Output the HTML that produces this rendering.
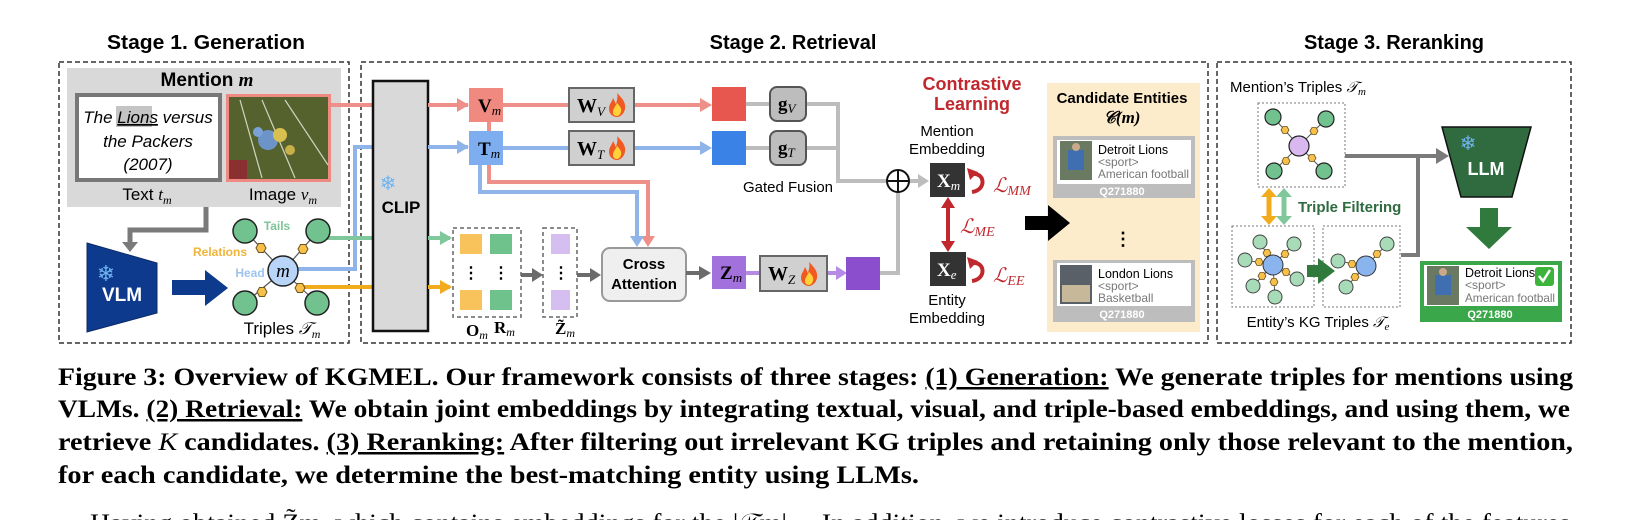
<!DOCTYPE html>
<html><head><meta charset="utf-8"><style>
html,body{margin:0;padding:0;background:#fff;}
svg{display:block;}
.s{font-family:"Liberation Sans",sans-serif;}
.m{font-family:"Liberation Serif",serif;font-style:italic;}
.b{font-family:"Liberation Serif",serif;font-weight:bold;}
</style></head><body>
<svg width="1632" height="520" viewBox="0 0 1632 520" xmlns="http://www.w3.org/2000/svg">
<defs>
<polygon id="hex" points="-5,0 -2.5,-4.5 2.5,-4.5 5,0 2.5,4.5 -2.5,4.5" fill="#f7c04a" stroke="#6b5520" stroke-width="1"/>
<polygon id="hexs" points="-4,0 -2,-3.5 2,-3.5 4,0 2,3.5 -2,3.5" fill="#f7c04a" stroke="#6b5520" stroke-width="0.8"/>
<g id="flame"><path d="M0,-12 C6,-6 9,-2 8,4 C7,9 3,12 0,12 C-4,12 -8,9 -8,4 C-8,-1 -5,-3 -4,-7 C-2,-4 -2,-2 -1,-1 C0,-5 1,-8 0,-12Z" fill="#f05a22"/><path d="M0,-2 C3,1 5,4 4,7 C3,10 1,11 0,11 C-3,11 -4,9 -4,7 C-4,4 -2,2 0,-2Z" fill="#ffd23a"/></g>
</defs>

<!-- Stage titles -->
<text x="206" y="49" class="s" font-size="20" font-weight="bold" text-anchor="middle" textLength="198" lengthAdjust="spacingAndGlyphs">Stage 1. Generation</text>
<text x="793" y="49" class="s" font-size="20" font-weight="bold" text-anchor="middle">Stage 2. Retrieval</text>
<text x="1394" y="49" class="s" font-size="20" font-weight="bold" text-anchor="middle">Stage 3. Reranking</text>

<!-- Stage boxes -->
<rect x="59" y="62" width="290" height="281" fill="none" stroke="#333" stroke-width="1.5" stroke-dasharray="5,3"/>
<rect x="361" y="62" width="847" height="281" fill="none" stroke="#333" stroke-width="1.5" stroke-dasharray="5,3"/>
<rect x="1217" y="62" width="354" height="281" fill="none" stroke="#333" stroke-width="1.5" stroke-dasharray="5,3"/>

<!-- ===== Stage 1 ===== -->
<rect x="67" y="68" width="274" height="139" fill="#d9d9d9"/>
<text x="207" y="86" class="s" font-size="19" font-weight="bold" text-anchor="middle">Mention <tspan class="m" font-weight="bold">m</tspan></text>
<rect x="77" y="95" width="143" height="85" fill="#fff" stroke="#777" stroke-width="4"/>
<rect x="116" y="106" width="36" height="21" fill="#c4c4c4"/>
<text x="148" y="123" class="s" font-size="17" font-style="italic" text-anchor="middle">The <tspan text-decoration="underline">Lions</tspan> versus</text>
<text x="148" y="147" class="s" font-size="17" font-style="italic" text-anchor="middle">the Packers</text>
<text x="148" y="170" class="s" font-size="17" font-style="italic" text-anchor="middle">(2007)</text>
<rect x="227.5" y="95.5" width="102" height="85" fill="#4b5a2c" stroke="#ee8a82" stroke-width="3"/>
<rect x="229" y="97" width="99" height="82" fill="#56622e"/>
<path d="M240,100 L262,178 M262,100 L295,178 M285,100 L328,165" stroke="#cfd6c0" stroke-width="1.2" fill="none"/>
<circle cx="268" cy="140" r="10" fill="#6d94c8"/><circle cx="280" cy="135" r="7" fill="#d8c050"/><circle cx="258" cy="132" r="5" fill="#7aa2d8"/><circle cx="290" cy="150" r="5" fill="#c8b048"/>
<rect x="229" y="160" width="18" height="19" fill="#8a3030"/>
<text x="147" y="200" class="s" font-size="17" text-anchor="middle">Text <tspan class="m">t</tspan><tspan class="m" font-size="12" dy="4">m</tspan></text>
<text x="283" y="200" class="s" font-size="17" text-anchor="middle">Image <tspan class="m">v</tspan><tspan class="m" font-size="12" dy="4">m</tspan></text>

<path d="M206,207 V230 H130 V244" stroke="#7a7a7a" stroke-width="5" fill="none"/>
<polygon points="122,242 138,242 130,252" fill="#7a7a7a"/>

<polygon points="87,243 157,263 157,313 87,332" fill="#0d3a8c" stroke="#0a2a66" stroke-width="1"/>
<text x="106" y="281" font-size="22" fill="#6fb4f0" text-anchor="middle" font-family="DejaVu Sans">❄</text>
<text x="122" y="301" class="s" font-size="19" font-weight="bold" fill="#fff" text-anchor="middle">VLM</text>
<rect x="172" y="280" width="35" height="15" fill="#0d3a8c"/>
<polygon points="205,270 228,288 205,306" fill="#0d3a8c"/>

<!-- connectors from graph -->
<path d="M331,105 H468" stroke="#ee9089" stroke-width="4" fill="none"/>
<path d="M297,269 H355 V147 H468" stroke="#8fb4ea" stroke-width="4" fill="none"/>
<path d="M318,238 H450" stroke="#80c79c" stroke-width="4" fill="none"/>
<path d="M300,287 H450" stroke="#f2ab1c" stroke-width="4" fill="none"/>

<!-- graph -->
<g stroke="#555" stroke-width="1.2">
<line x1="283" y1="271" x2="245" y2="231"/><line x1="283" y1="271" x2="318" y2="231"/>
<line x1="283" y1="271" x2="245" y2="303"/><line x1="283" y1="271" x2="317" y2="303"/>
</g>
<g fill="#72c290" stroke="#222" stroke-width="1.5">
<circle cx="245" cy="231" r="12"/><circle cx="318" cy="231" r="12"/><circle cx="245" cy="303" r="12"/><circle cx="317" cy="303" r="12"/>
</g>
<use href="#hex" x="261" y="248"/><use href="#hex" x="303" y="249"/><use href="#hex" x="262" y="292"/><use href="#hex" x="300" y="288"/>
<circle cx="283" cy="271" r="15" fill="#b8d4f6" stroke="#222" stroke-width="1.5"/>
<text x="283" y="277" class="m" font-size="19" text-anchor="middle">m</text>
<text x="277" y="230" class="s" font-size="12" font-weight="bold" fill="#7cc596" text-anchor="middle">Tails</text>
<text x="220" y="256" class="s" font-size="12" font-weight="bold" fill="#f0b43a" text-anchor="middle">Relations</text>
<text x="250" y="277" class="s" font-size="12" font-weight="bold" fill="#9ec2ee" text-anchor="middle">Head</text>
<text x="282" y="334" class="s" font-size="17" text-anchor="middle">Triples <tspan class="m">𝒯</tspan><tspan class="m" font-size="12" dy="4">m</tspan></text>

<!-- ===== Stage 2 ===== -->
<rect x="373" y="81" width="55" height="250" fill="#d9d9d9" stroke="#111" stroke-width="2.5"/>
<text x="388" y="190" font-size="20" fill="#6fb4f0" text-anchor="middle" font-family="DejaVu Sans">❄</text>
<text x="401" y="213" class="s" font-size="17" font-weight="bold" text-anchor="middle">CLIP</text>

<path d="M428,105 H460" stroke="#ee9089" stroke-width="4"/>
<polygon points="457,98 469,105 457,112" fill="#ee9089"/>
<path d="M428,147 H460" stroke="#8fb4ea" stroke-width="4"/>
<polygon points="457,140 469,147 457,154" fill="#8fb4ea"/>
<path d="M428,238 H442" stroke="#80c79c" stroke-width="4"/>
<polygon points="440,231 452,238 440,245" fill="#80c79c"/>
<path d="M428,287 H442" stroke="#f2ab1c" stroke-width="4"/>
<polygon points="440,280 452,287 440,294" fill="#f2ab1c"/>

<!-- Vm Tm rows -->
<path d="M503,105 H568 M634,105 H702" stroke="#ee9089" stroke-width="4"/>
<polygon points="700,98 712,105 700,112" fill="#ee9089"/>
<path d="M503,148 H568 M634,148 H702" stroke="#8fb4ea" stroke-width="4"/>
<polygon points="700,141 712,148 700,155" fill="#8fb4ea"/>
<path d="M489,122 V131" stroke="#ee9089" stroke-width="4"/>
<path d="M489,165 V182 H648 V238" stroke="#ee9089" stroke-width="4" fill="none"/>
<path d="M480,165 V192 H637 V238" stroke="#8fb4ea" stroke-width="4" fill="none"/>
<polygon points="641,236 655,236 648,247" fill="#ee9089"/>
<polygon points="630,236 644,236 637,247" fill="#8fb4ea"/>
<rect x="469" y="88" width="34" height="34" fill="#f08a80"/>
<text x="478" y="112" class="b" font-size="19">V<tspan class="m" font-weight="normal" font-size="13" dy="3">m</tspan></text>
<rect x="469" y="131" width="34" height="34" fill="#7eaef0"/>
<text x="478" y="155" class="b" font-size="19">T<tspan class="m" font-weight="normal" font-size="13" dy="3">m</tspan></text>

<rect x="569" y="88" width="65" height="34" fill="#d0d0d0" stroke="#666" stroke-width="2"/>
<text x="577" y="112" class="b" font-size="20">W<tspan class="m" font-weight="normal" font-size="13" dy="4">V</tspan></text>
<use href="#flame" x="617" y="105"/>
<rect x="569" y="131" width="65" height="34" fill="#d0d0d0" stroke="#666" stroke-width="2"/>
<text x="577" y="155" class="b" font-size="20">W<tspan class="m" font-weight="normal" font-size="13" dy="4">T</tspan></text>
<use href="#flame" x="617" y="148"/>

<rect x="712" y="87" width="34" height="34" fill="#e8574f"/>
<rect x="712" y="131" width="34" height="34" fill="#3b82e6"/>
<path d="M746,104 H770 M806,104 H838 V181 H887 M746,148 H770 M806,148 H838" stroke="#bdbdbd" stroke-width="4" fill="none"/>
<rect x="770" y="87" width="36" height="34" rx="7" fill="#bdbdbd" stroke="#555" stroke-width="2"/>
<text x="778" y="110" class="b" font-size="19">g<tspan class="m" font-weight="normal" font-size="13" dy="3">V</tspan></text>
<rect x="770" y="131" width="36" height="34" rx="7" fill="#bdbdbd" stroke="#555" stroke-width="2"/>
<text x="778" y="154" class="b" font-size="19">g<tspan class="m" font-weight="normal" font-size="13" dy="3">T</tspan></text>
<text x="788" y="192" class="s" font-size="15" text-anchor="middle">Gated Fusion</text>

<!-- Om Rm -->
<rect x="453" y="228" width="68" height="89" fill="none" stroke="#666" stroke-width="1.5" stroke-dasharray="4,3"/>
<rect x="460" y="234" width="22" height="20" fill="#f8c35a"/><rect x="490" y="234" width="22" height="20" fill="#6fc28c"/>
<rect x="460" y="290" width="22" height="20" fill="#f8c35a"/><rect x="490" y="290" width="22" height="20" fill="#6fc28c"/>
<text x="471" y="278" class="s" font-size="16" font-weight="bold" text-anchor="middle">⋮</text>
<text x="501" y="278" class="s" font-size="16" font-weight="bold" text-anchor="middle">⋮</text>
<text x="466" y="336" class="b" font-size="17">O<tspan class="m" font-weight="normal" font-size="12" dy="3">m</tspan></text>
<text x="494" y="333" class="b" font-size="17">R<tspan class="m" font-weight="normal" font-size="12" dy="3">m</tspan></text>
<path d="M521,275 H534" stroke="#6b6b6b" stroke-width="4"/><polygon points="532,268 543,275 532,282" fill="#6b6b6b"/>
<rect x="543" y="228" width="34" height="89" fill="none" stroke="#666" stroke-width="1.5" stroke-dasharray="4,3"/>
<rect x="551" y="234" width="19" height="20" fill="#d5bff0"/><rect x="551" y="290" width="19" height="20" fill="#d5bff0"/>
<text x="561" y="278" class="s" font-size="16" font-weight="bold" text-anchor="middle">⋮</text>
<text x="555" y="334" class="b" font-size="17">Z̃<tspan class="m" font-weight="normal" font-size="12" dy="3">m</tspan></text>
<path d="M577,275 H592" stroke="#6b6b6b" stroke-width="4"/><polygon points="590,268 601,275 590,282" fill="#6b6b6b"/>

<rect x="602" y="248" width="84" height="53" rx="8" fill="#efefef" stroke="#999" stroke-width="2"/>
<text x="644" y="269" class="s" font-size="15" font-weight="bold" text-anchor="middle">Cross</text>
<text x="644" y="289" class="s" font-size="15" font-weight="bold" text-anchor="middle">Attention</text>
<path d="M686,273 H701" stroke="#6b6b6b" stroke-width="4"/><polygon points="699,266 711,273 699,280" fill="#6b6b6b"/>
<rect x="712" y="256" width="34" height="33" fill="#a371dc"/>
<text x="720" y="279" class="b" font-size="19">Z<tspan class="m" font-weight="normal" font-size="13" dy="3">m</tspan></text>
<path d="M746,273 H760 M827,273 H838" stroke="#b58be6" stroke-width="4"/>
<polygon points="836,266 847,273 836,280" fill="#b58be6"/>
<rect x="760" y="256" width="67" height="35" fill="#d0d0d0" stroke="#666" stroke-width="2"/>
<text x="768" y="280" class="b" font-size="20">W<tspan class="m" font-weight="normal" font-size="13" dy="4">Z</tspan></text>
<use href="#flame" x="809" y="274"/>
<rect x="846" y="257" width="34" height="33" fill="#8b4fcd"/>
<path d="M880,273 H898 V192" stroke="#bdbdbd" stroke-width="4" fill="none"/>
<circle cx="898" cy="181" r="11" fill="#fff" stroke="#111" stroke-width="2"/>
<path d="M887,181 H909 M898,170 V192" stroke="#111" stroke-width="2"/>
<path d="M910,181 H920" stroke="#bdbdbd" stroke-width="4"/><polygon points="918,174 929,181 918,188" fill="#bdbdbd"/>

<!-- Contrastive -->
<text x="972" y="90" class="s" font-size="18" font-weight="bold" fill="#c0282d" text-anchor="middle">Contrastive</text>
<text x="972" y="110" class="s" font-size="18" font-weight="bold" fill="#c0282d" text-anchor="middle">Learning</text>
<text x="947" y="136" class="s" font-size="15" text-anchor="middle">Mention</text>
<text x="947" y="154" class="s" font-size="15" text-anchor="middle">Embedding</text>
<rect x="930" y="163" width="35" height="34" fill="#333"/>
<text x="937" y="187" class="b" font-size="19" fill="#fff">X<tspan class="m" font-weight="normal" font-size="13" dy="3">m</tspan></text>
<rect x="930" y="252" width="36" height="34" fill="#333"/>
<text x="937" y="276" class="b" font-size="19" fill="#fff">X<tspan class="m" font-weight="normal" font-size="13" dy="3">e</tspan></text>
<text x="947" y="305" class="s" font-size="15" text-anchor="middle">Entity</text>
<text x="947" y="323" class="s" font-size="15" text-anchor="middle">Embedding</text>
<path d="M948,206 V243" stroke="#c0282d" stroke-width="4"/>
<polygon points="941,208 955,208 948,197" fill="#c0282d"/><polygon points="941,241 955,241 948,252" fill="#c0282d"/>
<path d="M972,174 C985,172 987,190 972,192" stroke="#c0282d" stroke-width="4" fill="none"/>
<polygon points="967,168 978,172 970,180" fill="#c0282d"/>
<path d="M972,263 C985,261 987,279 972,281" stroke="#c0282d" stroke-width="4" fill="none"/>
<polygon points="967,257 978,261 970,269" fill="#c0282d"/>
<text x="993" y="192" class="m" font-size="20" fill="#c0282d">ℒ<tspan font-size="14" dy="3">MM</tspan></text>
<text x="960" y="233" class="m" font-size="20" fill="#c0282d">ℒ<tspan font-size="14" dy="3">ME</tspan></text>
<text x="993" y="282" class="m" font-size="20" fill="#c0282d">ℒ<tspan font-size="14" dy="3">EE</tspan></text>

<!-- Candidate panel -->
<rect x="1047" y="83" width="153" height="249" fill="#fdeccb"/>
<text x="1122" y="103" class="s" font-size="15" font-weight="bold" text-anchor="middle">Candidate Entities</text>
<text x="1122" y="123" class="m" font-size="17" font-weight="bold" text-anchor="middle">𝒞(m)</text>
<rect x="1053" y="136" width="142" height="62" fill="#bdbdbd"/>
<rect x="1057" y="140" width="134" height="44" fill="#fff"/>
<rect x="1060" y="141" width="32" height="39" fill="#6a7a62"/><rect x="1068" y="150" width="16" height="20" fill="#3f6fb0"/><circle cx="1076" cy="147" r="4" fill="#c9a98a"/>
<text x="1098" y="154" class="s" font-size="12.5">Detroit Lions</text>
<text x="1098" y="166" class="s" font-size="12" fill="#777">&lt;sport&gt;</text>
<text x="1098" y="178" class="s" font-size="12" fill="#777" textLength="91" lengthAdjust="spacingAndGlyphs">American football</text>
<text x="1122" y="195" class="s" font-size="11" font-weight="bold" fill="#fff" text-anchor="middle">Q271880</text>
<text x="1123" y="245" class="s" font-size="18" font-weight="bold" text-anchor="middle">⋮</text>
<rect x="1053" y="260" width="142" height="62" fill="#bdbdbd"/>
<rect x="1057" y="263" width="134" height="43" fill="#fff"/>
<rect x="1060" y="265" width="32" height="39" fill="#5a6068"/><rect x="1062" y="285" width="28" height="17" fill="#c8b89a"/>
<text x="1098" y="278" class="s" font-size="12.5">London Lions</text>
<text x="1098" y="290" class="s" font-size="12" fill="#777">&lt;sport&gt;</text>
<text x="1098" y="302" class="s" font-size="12" fill="#777">Basketball</text>
<text x="1122" y="318" class="s" font-size="11" font-weight="bold" fill="#fff" text-anchor="middle">Q271880</text>

<!-- black arrow on top -->
<rect x="1025" y="216" width="25" height="14" fill="#000"/>
<polygon points="1048,205 1070,223 1048,241" fill="#000"/>

<!-- ===== Stage 3 ===== -->
<text x="1230" y="92" class="s" font-size="15">Mention’s Triples <tspan class="m">𝒯</tspan><tspan class="m" font-size="11" dy="3">m</tspan></text>
<rect x="1258" y="103" width="87" height="84" fill="none" stroke="#777" stroke-width="1" stroke-dasharray="2,2"/>
<g stroke="#555" stroke-width="1"><line x1="1299" y1="146" x2="1273" y2="117"/><line x1="1299" y1="146" x2="1326" y2="119"/><line x1="1299" y1="146" x2="1274" y2="171"/><line x1="1299" y1="146" x2="1324" y2="171"/></g>
<g fill="#72c290" stroke="#222" stroke-width="1.2"><circle cx="1273" cy="117" r="8"/><circle cx="1326" cy="119" r="8"/><circle cx="1274" cy="171" r="8"/><circle cx="1324" cy="171" r="8"/></g>
<use href="#hexs" x="1285" y="130"/><use href="#hexs" x="1314" y="131"/><use href="#hexs" x="1286" y="161"/><use href="#hexs" x="1312" y="158"/>
<circle cx="1299" cy="146" r="10" fill="#d8b8ee" stroke="#222" stroke-width="1.2"/>
<path d="M1345,156 H1438 M1401,255 H1418 V156" stroke="#7a7a7a" stroke-width="4" fill="none"/>
<polygon points="1436,148 1449,156 1436,164" fill="#7a7a7a"/>
<polygon points="1442,127 1531,127 1512,197 1461,197" fill="#2f6b3f" stroke="#111" stroke-width="1.5"/>
<text x="1468" y="150" font-size="20" fill="#6fb4f0" text-anchor="middle" font-family="DejaVu Sans">❄</text>
<text x="1486" y="175" class="s" font-size="18" font-weight="bold" fill="#fff" text-anchor="middle">LLM</text>
<rect x="1480" y="208" width="18" height="20" fill="#2f7a3c"/>
<polygon points="1466,227 1512,227 1489,249" fill="#2f7a3c"/>

<path d="M1269,195 V218" stroke="#f2ab1c" stroke-width="5"/>
<polygon points="1261,197 1277,197 1269,188" fill="#f2ab1c"/><polygon points="1261,216 1277,216 1269,225" fill="#f2ab1c"/>
<path d="M1284,195 V218" stroke="#80c79c" stroke-width="5"/>
<polygon points="1276,197 1292,197 1284,188" fill="#80c79c"/><polygon points="1276,216 1292,216 1284,225" fill="#80c79c"/>
<text x="1298" y="212" class="s" font-size="15" font-weight="bold" fill="#2f6b3f">Triple Filtering</text>

<rect x="1232" y="226" width="82" height="81" fill="none" stroke="#777" stroke-width="1" stroke-dasharray="2,2"/>
<rect x="1323" y="226" width="77" height="81" fill="none" stroke="#777" stroke-width="1" stroke-dasharray="2,2"/>
<g stroke="#555" stroke-width="1">
<line x1="1273" y1="265" x2="1260" y2="242"/><line x1="1273" y1="265" x2="1294" y2="244"/><line x1="1273" y1="265" x2="1245" y2="260"/><line x1="1273" y1="265" x2="1297" y2="279"/><line x1="1273" y1="265" x2="1253" y2="286"/><line x1="1273" y1="265" x2="1275" y2="297"/>
<line x1="1366" y1="266" x2="1338" y2="261"/><line x1="1366" y1="266" x2="1387" y2="244"/><line x1="1366" y1="266" x2="1346" y2="287"/>
</g>
<g fill="#a8dcb8" stroke="#444" stroke-width="1">
<circle cx="1260" cy="242" r="7"/><circle cx="1294" cy="244" r="7"/><circle cx="1245" cy="260" r="7"/><circle cx="1297" cy="279" r="7"/><circle cx="1253" cy="286" r="7"/><circle cx="1275" cy="297" r="7"/>
<circle cx="1338" cy="261" r="7"/><circle cx="1387" cy="244" r="7"/><circle cx="1346" cy="287" r="7"/>
</g>
<use href="#hexs" x="1267" y="253"/><use href="#hexs" x="1285" y="254"/><use href="#hexs" x="1259" y="262"/><use href="#hexs" x="1286" y="272"/><use href="#hexs" x="1262" y="276"/><use href="#hexs" x="1274" y="282"/>
<use href="#hexs" x="1352" y="264"/><use href="#hexs" x="1377" y="254"/><use href="#hexs" x="1355" y="277"/>
<circle cx="1273" cy="265" r="10" fill="#8ab4ee" stroke="#333" stroke-width="1"/>
<circle cx="1366" cy="266" r="10" fill="#8ab4ee" stroke="#333" stroke-width="1"/>
<rect x="1307" y="265" width="12" height="12" fill="#2f7a3c"/>
<polygon points="1318,258 1335,271 1318,284" fill="#2f7a3c"/>
<text x="1318" y="327" class="s" font-size="15" text-anchor="middle">Entity’s KG Triples <tspan class="m">𝒯</tspan><tspan class="m" font-size="11" dy="3">e</tspan></text>

<rect x="1420" y="261" width="142" height="61" fill="#3aa84a"/>
<rect x="1424" y="265" width="134" height="41" fill="#fff"/>
<rect x="1427" y="266" width="32" height="39" fill="#6a7a62"/><rect x="1435" y="275" width="16" height="20" fill="#3f6fb0"/><circle cx="1443" cy="272" r="4" fill="#c9a98a"/>
<text x="1465" y="277" class="s" font-size="12.5">Detroit Lions</text>
<text x="1465" y="289" class="s" font-size="12" fill="#777">&lt;sport&gt;</text>
<text x="1465" y="302" class="s" font-size="12" fill="#777" textLength="90" lengthAdjust="spacingAndGlyphs">American football</text>
<rect x="1535" y="267" width="19" height="19" rx="3" fill="#3cb43c"/>
<path d="M1539,276 L1543,281 L1550,270" stroke="#fff" stroke-width="2.5" fill="none"/>
<text x="1490" y="318" class="s" font-size="11" font-weight="bold" fill="#fff" text-anchor="middle">Q271880</text>

<!-- Caption -->
<text y="385" class="b" font-size="25"><tspan x="58" textLength="1515" lengthAdjust="spacingAndGlyphs">Figure 3: Overview of KGMEL. Our framework consists of three stages: <tspan text-decoration="underline">(1) Generation:</tspan> We generate triples for mentions using</tspan></text>
<text y="417" class="b" font-size="25"><tspan x="58" textLength="1512" lengthAdjust="spacingAndGlyphs">VLMs. <tspan text-decoration="underline">(2) Retrieval:</tspan> We obtain joint embeddings by integrating textual, visual, and triple-based embeddings, and using them, we</tspan></text>
<text y="450" class="b" font-size="25"><tspan x="58" textLength="1515" lengthAdjust="spacingAndGlyphs">retrieve <tspan font-style="italic" font-weight="normal">K</tspan> candidates. <tspan text-decoration="underline">(3) Reranking:</tspan> After filtering out irrelevant KG triples and retaining only those relevant to the mention,</tspan></text>
<text y="483" class="b" font-size="25"><tspan x="58" textLength="861" lengthAdjust="spacingAndGlyphs">for each candidate, we determine the best-matching entity using LLMs.</tspan></text>
<text y="531" font-family="Liberation Serif,serif" font-size="25"><tspan x="90" textLength="1480" lengthAdjust="spacingAndGlyphs">Having obtained Z̃m, which contains embeddings for the |𝒯m| ... In addition, we introduce contrastive losses for each of the features</tspan></text>
</svg>
</body></html>
